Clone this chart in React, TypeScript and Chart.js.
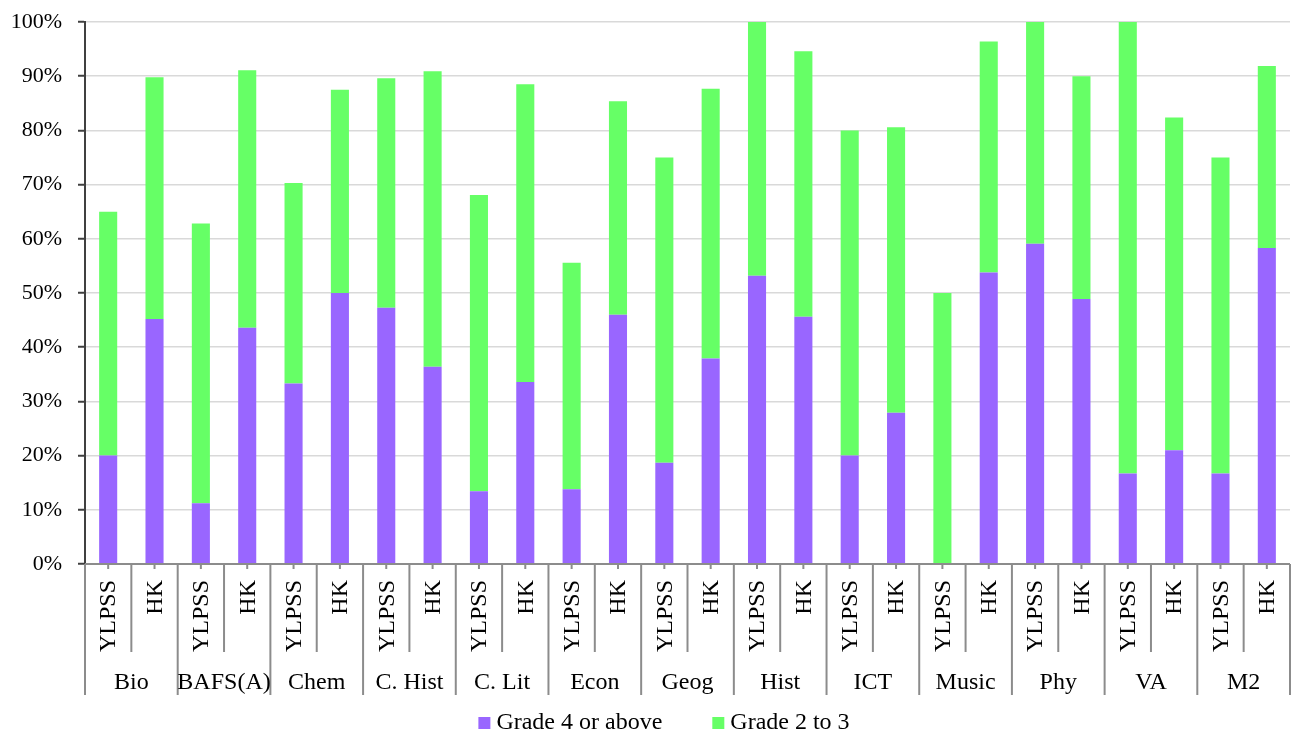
import React, { useEffect, useRef } from 'react';
import { Chart, registerables } from 'chart.js';

Chart.register(...registerables);

const subjects = ['Bio', 'BAFS(A)', 'Chem', 'C. Hist', 'C. Lit', 'Econ', 'Geog', 'Hist', 'ICT', 'Music', 'Phy', 'VA', 'M2'];
const schools = ['YLPSS', 'HK'];
const yTickLabels = ['0%', '10%', '20%', '30%', '40%', '50%', '60%', '70%', '80%', '90%', '100%'];

const grade4Above = [
  20.0, 45.2, 11.2, 43.6, 33.3, 50.0, 47.3, 36.4, 13.4, 33.6, 13.8, 46.0, 18.7,
  37.9, 53.2, 45.6, 20.0, 27.9, 0.0, 53.8, 59.1, 48.9, 16.7, 21.0, 16.7, 58.3,
];
const grade2to3 = [
  45.0, 44.6, 51.6, 47.5, 37.0, 37.5, 42.3, 54.5, 54.7, 54.9, 41.8, 39.4, 56.3,
  49.8, 46.8, 49.0, 60.0, 52.7, 50.0, 42.6, 40.9, 41.1, 83.3, 61.4, 58.3, 33.6,
];
const seriesNames = ['Grade 4 or above', 'Grade 2 to 3'];
const seriesColors = ['#9966FF', '#66FF66'];

const FONT = "'Liberation Serif', 'Times New Roman', serif";

const categoryPlugin = {
  id: 'categoryPlugin',
  afterDraw(chart: any) {
    const ctx = chart.ctx as CanvasRenderingContext2D;
    const x = chart.scales.x;
    const area = chart.chartArea;
    const n = chart.data.labels.length;
    const step = x.getPixelForValue(1) - x.getPixelForValue(0);
    const half = step / 2;
    const base = area.bottom;
    ctx.save();
    // axis line
    ctx.strokeStyle = '#8c8c8c';
    ctx.lineWidth = 2;
    ctx.beginPath();
    ctx.moveTo(area.left, base);
    ctx.lineTo(area.right, base);
    ctx.stroke();
    // separators
    for (let i = 0; i <= n; i++) {
      const bx = i < n ? x.getPixelForValue(i) - half : x.getPixelForValue(n - 1) + half;
      const long = i % 2 === 0;
      ctx.beginPath();
      ctx.moveTo(bx, base);
      ctx.lineTo(bx, long ? base + 131 : base + 88);
      ctx.stroke();
    }
    // center ticks
    for (let i = 0; i < n; i++) {
      const cx = x.getPixelForValue(i);
      ctx.beginPath();
      ctx.moveTo(cx, base);
      ctx.lineTo(cx, base + 5);
      ctx.stroke();
    }
    // rotated labels
    ctx.fillStyle = '#000';
    ctx.font = `24px ${FONT}`;
    for (let i = 0; i < n; i++) {
      const cx = x.getPixelForValue(i);
      const lbl = chart.data.labels[i][0];
      ctx.save();
      ctx.translate(cx + 1, base + 16);
      ctx.rotate(-Math.PI / 2);
      ctx.textAlign = 'right';
      ctx.textBaseline = 'middle';
      ctx.fillText(lbl, 0, 0);
      ctx.restore();
    }
    // group labels
    ctx.textAlign = 'center';
    ctx.textBaseline = 'middle';
    for (let g = 0; g < subjects.length; g++) {
      const a = x.getPixelForValue(g * 2);
      const b = x.getPixelForValue(g * 2 + 1);
      ctx.fillText(subjects[g], (a + b) / 2, base + 119);
    }
    // legend
    ctx.font = `24px ${FONT}`;
    ctx.textAlign = 'left';
    const ly = 723;
    const items = chart.data.datasets.map((d: any) => ({ text: d.label, color: d.backgroundColor }));
    const gap = 50;
    const box = 12;
    const widths = items.map((it: any) => box + 6 + ctx.measureText(it.text).width);
    const total = widths.reduce((s: number, w: number) => s + w, 0) + gap * (items.length - 1);
    let lx = (chart.width - total) / 2 + 18;
    items.forEach((it: any, k: number) => {
      ctx.fillStyle = it.color;
      ctx.fillRect(lx, ly - box / 2, box, box);
      ctx.fillStyle = '#000';
      ctx.fillText(it.text, lx + box + 6, ly);
      lx += widths[k] + gap;
    });
    ctx.restore();
  },
};

export default function App() {
  const ref = useRef<HTMLCanvasElement | null>(null);
  useEffect(() => {
    if (!ref.current) return;
    const labels = subjects.flatMap((s) => schools.map((sc) => [sc, s]));
    const chart = new Chart(ref.current, {
      type: 'bar',
      data: {
        labels,
        datasets: [
          { label: seriesNames[0], data: grade4Above, backgroundColor: seriesColors[0], borderWidth: 0 },
          { label: seriesNames[1], data: grade2to3, backgroundColor: seriesColors[1], borderWidth: 0 },
        ],
      },
      options: {
        responsive: false,
        animation: false,
        devicePixelRatio: 1,
        layout: { padding: { top: 22, right: 2, left: 0, bottom: 0 } },
        datasets: { bar: { categoryPercentage: 1, barPercentage: 0.39 } },
        plugins: { legend: { display: false }, tooltip: { enabled: false } },
        scales: {
          x: {
            stacked: true,
            ticks: { display: false },
            grid: { display: false },
            border: { display: false },
            afterFit: (s: any) => { s.height = 169; s.paddingLeft = 0; s.paddingRight = 0; },
          },
          y: {
            stacked: true,
            min: 0,
            max: 100,
            ticks: {
              stepSize: 10,
              padding: 16,
              color: '#000',
              font: { family: FONT, size: 22 },
              callback: (v: any) => yTickLabels[Math.round(Number(v) / 10)],
            },
            grid: { color: '#d9d9d9', lineWidth: 1.5, tickColor: '#404040', tickLength: 7, tickWidth: 2 },
            border: { display: true, color: '#404040', width: 2 },
            afterFit: (s: any) => { s.width = 85; s.paddingTop = 0; s.paddingBottom = 0; },
          },
        },
      },
      plugins: [categoryPlugin],
    });
    return () => chart.destroy();
  }, []);
  return (
    <div style={{ position: 'absolute', left: 0, top: 0, width: 1292, height: 733, background: '#fff' }}>
      <canvas ref={ref} width={1292} height={733} />
    </div>
  );
}
